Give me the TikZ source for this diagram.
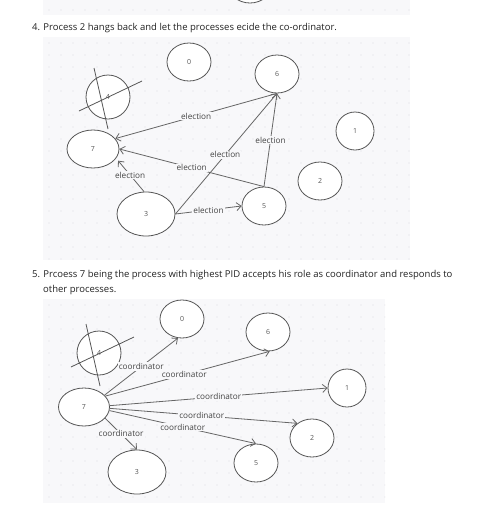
\documentclass[tikz,border=0pt]{standalone}
\usepackage{fontspec}
\setmainfont{Open Sans}
\usetikzlibrary{shapes.geometric,arrows.meta}
\definecolor{panelbg}{HTML}{F8F8FA}
\definecolor{griddot}{HTML}{DEDEE4}
\definecolor{strokec}{HTML}{555555}
\definecolor{edgec}{HTML}{666666}
\definecolor{txtc}{HTML}{222222}
\definecolor{labc}{HTML}{444444}
\newcommand{\drawpanel}[6]{%
  \fill[panelbg] (#1,#2) rectangle (#3,#4);
  \begin{scope}
    \clip (#1,#2) rectangle (#3,#4);
    \foreach \i in {0,...,#5} \foreach \j in {0,...,#6}
      \fill[griddot] ({#1+6+12*\i},{#2+6+12*\j}) circle (0.65pt);
  \end{scope}}
\tikzset{
  proc/.style={ellipse, draw=strokec, line width=0.8pt, fill=white, inner sep=0pt,
    font=\fontsize{7}{8}\selectfont, text=strokec},
  msg/.style={draw=edgec, line width=0.8pt, -{Straight Barb[length=4.5pt,width=8pt]}},
  lab/.style={fill=panelbg, inner sep=1pt, font=\fontsize{8.2}{9}\selectfont, text=labc},
  caption/.style={anchor=west, inner sep=0pt, font=\fontsize{9.5}{11}\selectfont, text=txtc},
  strike/.style={draw=strokec, line width=0.8pt}
}
\begin{document}
\begin{tikzpicture}[x=1pt,y=-1pt]
\useasboundingbox (0,0) rectangle (482,517);
\fill[white] (0,0) rectangle (482,517);

% ---- top remnant panel ----
\begin{scope}
  \clip (0,0) rectangle (482,517);
  \drawpanel{43}{-20}{410}{15}{31}{3}
  \begin{scope}
    \clip (43,0) rectangle (410,15);
    \node[proc, minimum width=44, minimum height=38] (top) at (250,-16) {};
  \end{scope}
\end{scope}

% ---- caption 4 ----
\node[caption] (cap4) at (32,28) {4. Process 2 hangs back and let the processes ecide the co-ordinator.};

% ---- panel 2 ----
\drawpanel{43}{37}{410}{260}{31}{19}
\node[proc, minimum width=44, minimum height=38] (a0) at (189,62) {0};
\node[proc, minimum width=44, minimum height=44] (a4) at (108,97) {4};
\node[proc, minimum width=52, minimum height=38] (a7) at (93,149) {7};
\node[proc, minimum width=58, minimum height=44] (a3) at (146,214) {3};
\node[proc, minimum width=44, minimum height=38] (a6) at (277,74) {6};
\node[proc, minimum width=38, minimum height=38] (a1) at (355,131) {1};
\node[proc, minimum width=44, minimum height=38] (a2) at (320,181) {2};
\node[proc, minimum width=44, minimum height=38] (a5) at (264,206) {5};
\draw[strike] (94,68) -- (108,129);
\draw[strike] (79,111) -- (142,81);

\draw[msg] (a6.south) -- node[lab, pos=0.5] {election} (a7.25);
\draw[msg] (a3.east) -- node[lab, pos=0.49] {election} (a6.south);
\draw[msg] (a5.north) -- node[lab, pos=0.5] {election} (a7.east);
\draw[msg, shorten >=3pt] (a3.95) -- node[lab, pos=0.5] {election} (a7.-22);
\draw[msg] (a3.east) -- node[lab, pos=0.5] {election} (a5.west);
\draw[msg] (a5.north) -- node[lab, pos=0.5] {election} (a6.south);

% ---- caption 5 ----
\node[caption] (cap5a) at (32,275) {5. Prcoess 7 being the process with highest PID accepts his role as coordinator and responds to};
\node[caption] (cap5b) at (43,290) {other processes.};

% ---- panel 3 ----
\drawpanel{43}{299}{385}{503}{29}{17}
\node[proc, minimum width=44, minimum height=38] (b0) at (182,319) {0};
\node[proc, minimum width=44, minimum height=44] (b4) at (99,353) {4};
\node[proc, minimum width=51, minimum height=38] (b7) at (84,407) {7};
\node[proc, minimum width=58, minimum height=44] (b3) at (137,472) {3};
\node[proc, minimum width=44, minimum height=38] (b6) at (268,332) {6};
\node[proc, minimum width=38, minimum height=38] (b1) at (347,388) {1};
\node[proc, minimum width=44, minimum height=38] (b2) at (312,438) {2};
\node[proc, minimum width=44, minimum height=38] (b5) at (256,463) {5};
\draw[strike] (86,324) -- (100,386);
\draw[strike] (71,367) -- (134,337);

\draw[msg] (b7.30) -- node[lab, pos=0.5] {coordinator} (b0.-102);
\draw[msg] (b7.27) -- node[lab, pos=0.48] {coordinator} (b6.-85);
\draw[msg] (b7.3) -- node[lab, pos=0.5] {coordinator} (b1.west);
\draw[msg] (b7.-3) -- node[lab, pos=0.49] {coordinator} (b2.135);
\draw[msg] (b7.-8) -- node[lab, pos=0.5] {coordinator} (b5.north);
\draw[msg] (b7.-28) -- node[lab, pos=0.5] {coordinator} (b3.north);
\end{tikzpicture}
\end{document}
